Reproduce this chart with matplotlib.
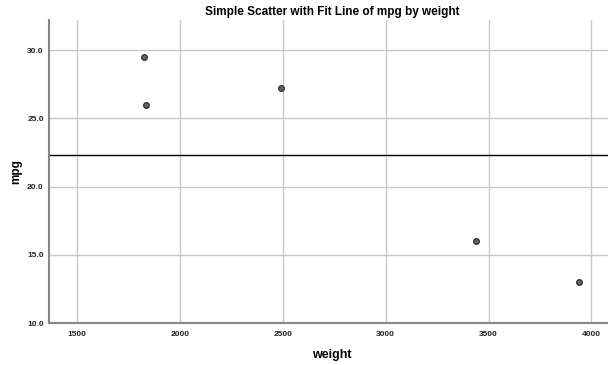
import numpy as np
import matplotlib
matplotlib.use("Agg")
import matplotlib.pyplot as plt
from matplotlib.ticker import FormatStrFormatter

weight = [1825, 1835, 2490, 3440, 3940]
mpg = [29.5, 26.0, 27.2, 16.0, 13.0]
x_ticks = [1500, 2000, 2500, 3000, 3500, 4000]
y_ticks = [10.0, 15.0, 20.0, 25.0, 30.0]

plt.rcParams['font.family'] = ['Liberation Sans', 'DejaVu Sans']

fig = plt.figure(figsize=(6.08, 3.65), dpi=100)
ax = fig.add_axes([0.081, 0.115, 0.93, 0.83])

ax.scatter(weight, mpg, s=16, facecolor='#666666', edgecolor='#333333', linewidth=1.0, zorder=3)
ax.axhline(np.mean(mpg), color='black', linewidth=1.0, zorder=2)

ax.set_xlim(1365, 4113)
ax.set_ylim(10, 32.2)
ax.set_xticks(x_ticks)
ax.set_yticks(y_ticks)
ax.yaxis.set_major_formatter(FormatStrFormatter('%.1f'))
ax.tick_params(length=0, labelsize=6, colors='#222222')
ax.tick_params(axis='y', pad=4)
ax.tick_params(axis='x', pad=6)
for lbl in ax.get_xticklabels() + ax.get_yticklabels():
    lbl.set_fontweight('bold')

ax.grid(True, color='#c8c8c8', linewidth=1.0)
ax.set_axisbelow(True)
for s in ['top', 'right']:
    ax.spines[s].set_visible(False)
for s in ['left', 'bottom']:
    ax.spines[s].set_color('#888888')
    ax.spines[s].set_linewidth(1.5)

ax.set_title("Simple Scatter with Fit Line of mpg by weight", fontsize=8.5, fontweight='bold', pad=4)
ax.set_xlabel("weight", fontsize=9, fontweight='bold', labelpad=8)
ax.set_ylabel("mpg", fontsize=8.5, fontweight='bold')
ax.yaxis.set_label_coords(-0.047, 0.5)

fig.savefig("out.png", dpi=100)
